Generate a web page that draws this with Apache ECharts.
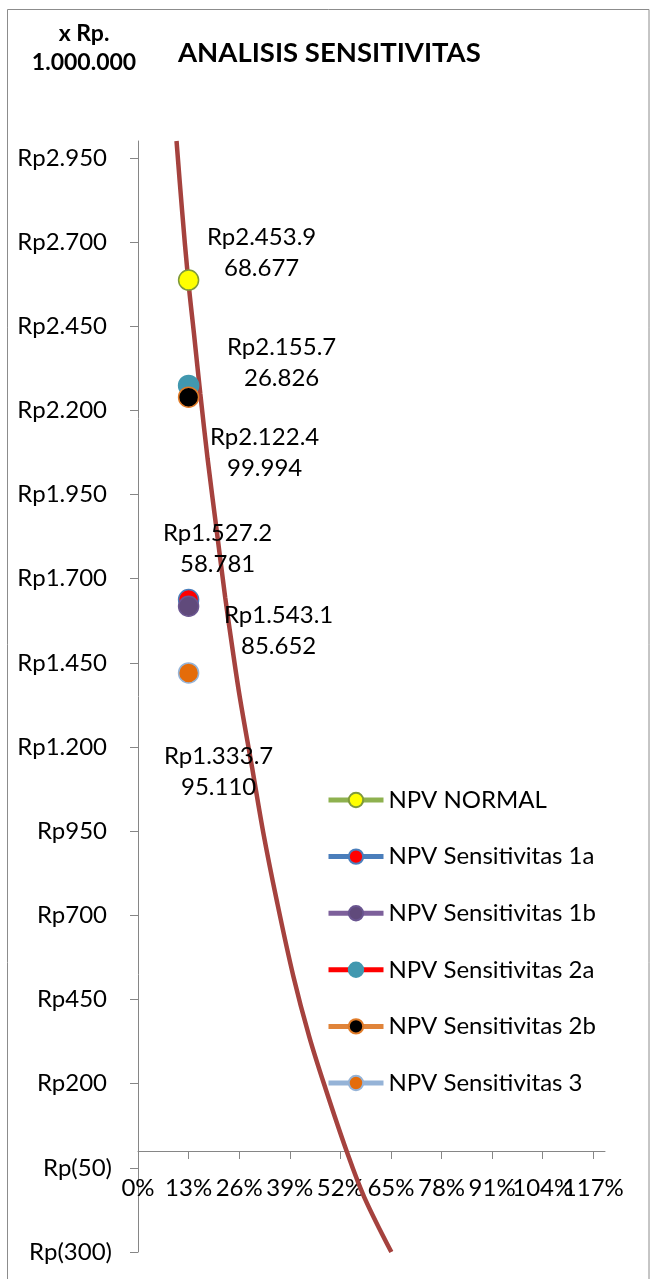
<!DOCTYPE html>
<html><head><meta charset="utf-8">
<script src="https://cdn.jsdelivr.net/npm/echarts@6/dist/echarts.min.js"></script>
<style>html,body{margin:0;padding:0;background:#fff}#c{width:651px;height:1279px}</style>
</head><body><div id="c"></div>
<script>
// NPV curve (discount rate in %, NPV in Rp x 1.000.000)
const curveRates = [9.9, 11.3, 12.9, 14.5, 16.0, 17.9, 20.2, 22.4, 24.3, 26.2, 29.3, 32.2, 35.6, 39.9, 44.0, 48.2, 53.6, 58.1, 65.1];
const curveNpv   = [3000, 2797, 2587, 2415, 2250, 2055, 1845, 1645, 1490, 1345, 1140, 945, 747, 520, 340, 185, 0, -136, -300];

// Sensitivity points
const pointNames  = ['NPV NORMAL', 'NPV Sensitivitas 1a', 'NPV Sensitivitas 1b', 'NPV Sensitivitas 2a', 'NPV Sensitivitas 2b', 'NPV Sensitivitas 3'];
const pointRates  = [13, 13, 13, 13, 13, 13];
const pointNpv    = [2587, 1638, 1618, 2274, 2239, 1420];
const pointLabels = ['Rp2.453.9\n68.677', 'Rp1.543.1\n85.652', 'Rp1.527.2\n58.781', 'Rp2.155.7\n26.826', 'Rp2.122.4\n99.994', 'Rp1.333.7\n95.110'];

// Styles
const lineColors   = ['#8EB14F', '#4A7EBB', '#7D609B', '#FF0000', '#E0843A', '#95B3D7'];
const fillColors   = ['#FFFF00', '#FF0000', '#604A7B', '#4198AF', '#000000', '#E46C0A'];
const borderColors = ['#7F9A3A', '#4A7EBB', '#6A5590', '#4198AF', '#E07B28', '#95B3D7'];
const labelOffsets = [[73, -27], [90, 31], [29, -58], [93, -23], [76, 56], [30, 99]];

const FONT = 'Lato, "Open Sans", sans-serif';
const FS = 24;

function fmtRp(v) {
  const a = Math.abs(v);
  const s = String(a).replace(/\B(?=(\d{3})+(?!\d))/g, '.');
  return v < 0 ? 'Rp(' + s + ')' : '{p|Rp' + s + '}';
}

const chart = echarts.init(document.getElementById('c'), null, {renderer: 'canvas'});

const Y_MIN = -300, Y_MAX = 3000;
const GRID_TOP = 141, GRID_BOTTOM = 27, H = 1279;
const plotH = H - GRID_TOP - GRID_BOTTOM;
const zeroOffset = -(0 - Y_MIN) / (Y_MAX - Y_MIN) * plotH;

const series = [{
  type: 'line',
  name: 'curve',
  data: curveRates.map((r, i) => [r, curveNpv[i]]),
  smooth: 0.35,
  symbol: 'none',
  clip: true,
  silent: true,
  lineStyle: {color: '#A5423E', width: 4.5},
  z: 2
}];

pointNames.forEach((n, i) => {
  series.push({
    type: 'line',
    name: n,
    data: [[pointRates[i], pointNpv[i]]],
    symbol: 'circle',
    symbolSize: 20,
    lineStyle: {color: lineColors[i], width: 5},
    itemStyle: {color: fillColors[i], borderColor: borderColors[i], borderWidth: 1.5},
    label: {
      show: true,
      position: 'inside',
      offset: labelOffsets[i],
      formatter: pointLabels[i],
      color: '#000',
      fontFamily: FONT,
      fontSize: FS,
      lineHeight: 31,
      align: 'center',
      verticalAlign: 'middle'
    },
    z: 3 + i
  });
});

chart.setOption({
  animation: false,
  backgroundColor: '#fff',
  title: {
    text: 'ANALISIS SENSITIVITAS',
    left: 178, top: 39, padding: 0,
    textStyle: {fontFamily: FONT, fontSize: 27.5, fontWeight: 'bold', color: '#000', lineHeight: 28}
  },
  graphic: [
    {type: 'rect', shape: {x: 7.5, y: 9.5, width: 641.5, height: 1300}, style: {fill: 'none', stroke: '#8C8C8C', lineWidth: 1}, silent: true, z: -1},
    {type: 'text', x: 84, y: 19, style: {text: 'x Rp.\n1.000.000', fill: '#000', font: 'bold 23px ' + FONT, align: 'center', verticalAlign: 'top', lineHeight: 29}}
  ],
  legend: {
    data: pointNames,
    orient: 'vertical',
    left: 326, top: 788, padding: 0,
    itemWidth: 55, itemHeight: 18,
    itemGap: 32.6,
    lineStyle: {width: 5},
    textStyle: {fontFamily: FONT, fontSize: FS, color: '#000', lineHeight: 24},
    selectedMode: false
  },
  grid: {left: 138, right: 46, top: GRID_TOP, bottom: GRID_BOTTOM, outerBoundsMode: 'none', containLabel: false},
  xAxis: {
    type: 'value', min: 0, max: 120, interval: 13,
    position: 'bottom',
    offset: zeroOffset,
    splitLine: {show: false},
    axisLine: {onZero: false, lineStyle: {color: '#868686', width: 1}},
    axisTick: {show: true, length: 8, lineStyle: {color: '#868686'}},
    axisLabel: {formatter: '{value}%', showMaxLabel: false, margin: 25, color: '#000', fontFamily: FONT, fontSize: FS, lineHeight: 24, hideOverlap: false}
  },
  yAxis: {
    type: 'value', min: Y_MIN, max: Y_MAX, interval: 250,
    splitLine: {show: false},
    axisLine: {show: true, onZero: false, lineStyle: {color: '#868686', width: 1}},
    axisTick: {show: true, length: 8, lineStyle: {color: '#868686'}},
    axisLabel: {
      formatter: fmtRp, showMaxLabel: false, margin: 26, color: '#000', fontFamily: FONT, fontSize: FS,
      rich: {p: {fontFamily: FONT, fontSize: FS, color: '#000', padding: [0, 5, 0, 0]}}
    }
  },
  series: series
});
</script>
</body></html>
